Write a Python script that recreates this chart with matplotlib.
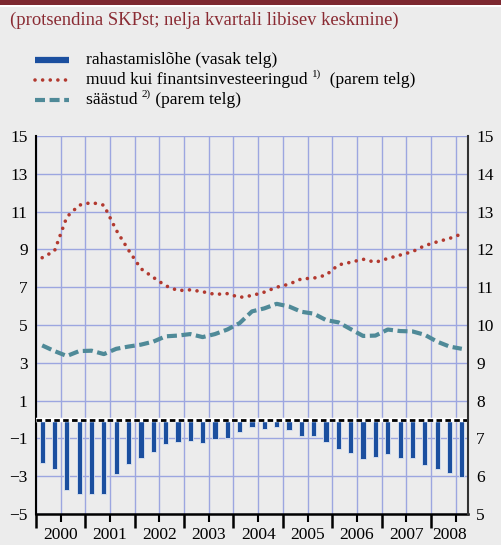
import matplotlib
matplotlib.use("Agg")
import matplotlib.pyplot as plt
import numpy as np
from matplotlib.lines import Line2D
from matplotlib.patches import Rectangle
import matplotlib.transforms as mtransforms

plt.rcParams['font.family'] = ['Liberation Serif', 'DejaVu Serif']
plt.rcParams['mathtext.fontset'] = 'stix'

# quarterly data 2000Q1 .. 2008Q3
years = ['2000', '2001', '2002', '2003', '2004', '2005', '2006', '2007', '2008']
quarters_per_year = [4, 4, 4, 4, 4, 4, 4, 4, 3]

financing_gap = [-2.29, -2.61, -3.74, -3.93, -3.93, -3.94, -2.86, -2.34,
                 -2.02, -1.74, -1.31, -1.19, -1.16, -1.23, -1.03, -0.96,
                 -0.68, -0.38, -0.49, -0.41, -0.56, -0.86, -0.86, -1.21,
                 -1.56, -1.79, -2.07, -1.97, -1.84, -2.02, -2.05, -2.42,
                 -2.63, -2.85, -3.06]

non_fin_invest = [11.78, 11.96, 12.86, 13.17, 13.24, 13.17, 12.51, 11.98,
                  11.49, 11.26, 11.04, 10.91, 10.93, 10.88, 10.81, 10.83,
                  10.73, 10.78, 10.87, 11.00, 11.08, 11.22, 11.24, 11.32,
                  11.59, 11.66, 11.74, 11.66, 11.76, 11.85, 11.94, 12.10,
                  12.20, 12.29, 12.41]

savings = [9.46, 9.31, 9.18, 9.31, 9.32, 9.23, 9.37, 9.43,
           9.48, 9.56, 9.70, 9.72, 9.76, 9.68, 9.76, 9.88,
           10.05, 10.36, 10.44, 10.56, 10.49, 10.35, 10.30, 10.13,
           10.07, 9.89, 9.71, 9.72, 9.88, 9.84, 9.83, 9.74,
           9.56, 9.43, 9.37]

left_ticks = list(range(-5, 16, 2))
right_ticks = list(range(5, 16, 1))

# legend labels: (main text, superscript, rest)
legend_parts = [('rahastamislõhe (vasak telg)', '', ''),
                ('muud kui finantsinvesteeringud ', '1)', '  (parem telg)'),
                ('säästud ', '2)', ' (parem telg)')]
title = '(protsendina SKPst; nelja kvartali libisev keskmine)'

bg = '#ececec'
grid_c = '#9ca6e0'
bar_c = '#1b4f9f'
red_c = '#b2392f'
teal_c = '#4f8a98'
title_c = '#8a2b33'

W, H = 501, 545
fig = plt.figure(figsize=(W / 100, H / 100), dpi=100, facecolor=bg)

def fx(px):
    return px / W

def fy(py):
    return 1 - py / H

# top band
fig.patches.append(Rectangle((0, fy(7)), 1, 7 / H, transform=fig.transFigure,
                             facecolor='white', edgecolor='none', zorder=0))
fig.patches.append(Rectangle((0, fy(4.5)), 1, 4.5 / H, transform=fig.transFigure,
                             facecolor='#7d2830', edgecolor='none', zorder=1))

fig.text(fx(10), fy(25), title, color=title_c, fontsize=13.4, va='baseline', ha='left')

red_ls = (0, (0.01, 2.1))
teal_ls = (0, (2.4, 1.1))

ax = fig.add_axes([fx(36), 31 / H, 432 / W, 378 / H])
ax.set_facecolor(bg)
n = len(financing_gap)
x = np.arange(n)

ax.bar(x, financing_gap, width=0.42, color=bar_c, edgecolor='#dfe6f3', linewidth=0.6, zorder=3)
ax.axhline(0, color='white', lw=3.2, zorder=4)
ax.axhline(0, color='black', lw=2.0, linestyle=(0, (2.0, 1.2)), zorder=5)

ax.set_xlim(-0.5, n - 0.5)
ax.set_ylim(-5, 15)
ax.set_yticks(left_ticks)
ax.tick_params(axis='y', length=0, pad=6, labelsize=12.5)

bounds = np.cumsum([0] + quarters_per_year[:-1]) - 0.5
halfs = np.cumsum([0] + quarters_per_year[:-1]) + 1.5
ax.set_xticks(bounds)
ax.set_xticks(halfs, minor=True)
ax.tick_params(axis='x', which='major', length=10, width=1.8, direction='out', labelbottom=False)
ax.tick_params(axis='x', which='minor', length=6, width=1.5, direction='out', labelbottom=False)
ax.grid(True, axis='both', which='both', color=grid_c, lw=1.0, zorder=0)
ax.set_axisbelow(True)

centers = np.cumsum([0] + quarters_per_year[:-1]) + (np.array(quarters_per_year) - 1) / 2
trans = mtransforms.blended_transform_factory(ax.transData, ax.transAxes)
for c, yl in zip(centers, years):
    ax.text(c, -21 / 378, yl, transform=trans, ha='center', va='center', fontsize=12.5)

ax.spines['top'].set_visible(False)
ax.spines['right'].set_visible(False)
ax.spines['left'].set_color('black')
ax.spines['left'].set_linewidth(1.5)
ax.spines['bottom'].set_linewidth(1.8)

ax2 = ax.twinx()
ax2.set_ylim(5, 15)
ax2.set_yticks(right_ticks)
ax2.tick_params(axis='y', length=0, pad=6, labelsize=12.5)
for s in ['top', 'left', 'bottom']:
    ax2.spines[s].set_visible(False)
ax2.spines['right'].set_color('#333333')
ax2.spines['right'].set_linewidth(1.5)

ax2.plot(x, non_fin_invest, color=red_c, lw=2.6, linestyle=red_ls,
         dash_capstyle='round', zorder=6)
ax2.plot(x, savings, color=teal_c, lw=3.0, linestyle=teal_ls, zorder=6)

# manual legend
styles = [dict(color=bar_c, lw=4.5, solid_capstyle='butt'),
          dict(color=red_c, lw=2.6, linestyle=red_ls, dash_capstyle='round'),
          dict(color=teal_c, lw=3.0, linestyle=teal_ls)]
baselines = [64.0, 84.0, 104.0]
fs = 12.6
renderer = fig.canvas.get_renderer()
for st, parts, bl in zip(styles, legend_parts, baselines):
    yc = fy(bl - 4.5)
    fig.add_artist(Line2D([fx(35), fx(69)], [yc, yc], transform=fig.transFigure, **st))
    main, sup, rest = parts
    t = fig.text(fx(86), fy(bl), main, fontsize=fs, va='baseline', ha='left')
    if sup:
        x1 = t.get_window_extent(renderer).x1
        t2 = fig.text(x1 / W, fy(bl + -7), sup, fontsize=8, va='baseline', ha='left')
        x2 = t2.get_window_extent(renderer).x1
        fig.text(x2 / W, fy(bl), rest, fontsize=fs, va='baseline', ha='left')

fig.savefig('out.png', dpi=100, facecolor=bg)
